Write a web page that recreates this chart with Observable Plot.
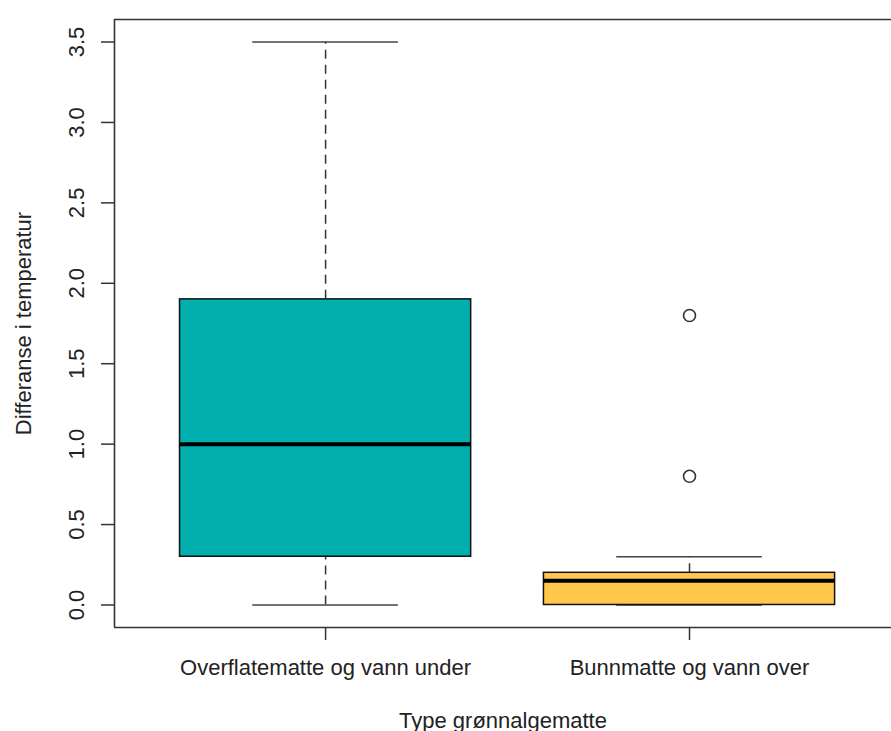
<!DOCTYPE html>
<html>
<head>
<meta charset="utf-8">
<script src="https://cdn.jsdelivr.net/npm/d3@7"></script>
<script src="https://cdn.jsdelivr.net/npm/@observablehq/plot@0.6"></script>
<style>
  html, body { margin: 0; padding: 0; background: #fff; }
</style>
</head>
<body>
<div id="chart"></div>
<script>
// ---- data ----
const categories = ["Overflatematte og vann under", "Bunnmatte og vann over"];
const q1 = [0.3, 0.0];
const median = [1.0, 0.15];
const q3 = [1.9, 0.2];
const whiskerLow = [0.0, 0.0];
const whiskerHigh = [3.5, 0.3];
const outlierValues = [[], [0.8, 1.8]];
const boxColors = ["#00AFAE", "#FFC84B"];
const yTicks = [0, 0.5, 1.0, 1.5, 2.0, 2.5, 3.0, 3.5];
const xTitle = "Type grønnalgematte";
const yTitle = "Differanse i temperatur";

// ---- tables ----
const boxes = categories.map((c, i) => ({
  cat: c, i: i + 1, q1: q1[i], med: median[i], q3: q3[i],
  lo: whiskerLow[i], hi: whiskerHigh[i], color: boxColors[i]
}));
const outliers = outlierValues.flatMap((vals, i) => vals.map(v => ({i: i + 1, v})));

const xDomain = [0.42, 2.555];
const yDomain = [-0.14, 3.64];
const boxHalf = 0.4, capHalf = 0.2;
const font = "'Liberation Sans', Arial, Helvetica, sans-serif";
const ink = "#333";
const fs = 22;

const chart = Plot.plot({
  width: 891,
  height: 731,
  marginLeft: 114,
  marginRight: 0,
  marginTop: 19,
  marginBottom: 104,
  style: {fontFamily: font, fontSize: fs + "px", color: "#222", background: "#fff"},
  x: {domain: xDomain, axis: null},
  y: {domain: yDomain, axis: null},
  marks: [
    // frame (left, top, bottom; right side is outside the picture)
    Plot.ruleX([xDomain[0]], {stroke: ink, strokeWidth: 1.6}),
    Plot.ruleY([yDomain[0], yDomain[1]], {stroke: ink, strokeWidth: 1.6}),
    // y axis
    Plot.axisY({
      ticks: yTicks, tickSize: 13, tickPadding: 18, tickRotate: -90,
      tickFormat: d3.format(".1f"), fontSize: fs, stroke: ink, strokeWidth: 1.5,
      label: null
    }),
    // x axis
    Plot.axisX({
      ticks: boxes.map(d => d.i), tickSize: 13, tickPadding: 19,
      tickFormat: v => categories[v - 1], fontSize: fs, stroke: ink, strokeWidth: 1.5,
      label: null
    }),
    // whiskers (dashed)
    Plot.ruleX(boxes, {x: "i", y1: "lo", y2: "q1", stroke: ink, strokeWidth: 1.5, strokeDasharray: "9,6"}),
    Plot.ruleX(boxes, {x: "i", y1: "q3", y2: "hi", stroke: ink, strokeWidth: 1.5, strokeDasharray: "9,6"}),
    // whisker caps
    Plot.ruleY(boxes, {y: "lo", x1: d => d.i - capHalf, x2: d => d.i + capHalf, stroke: "#444", strokeWidth: 1.7}),
    Plot.ruleY(boxes, {y: "hi", x1: d => d.i - capHalf, x2: d => d.i + capHalf, stroke: "#444", strokeWidth: 1.7}),
    // boxes
    Plot.rect(boxes, {x1: d => d.i - boxHalf, x2: d => d.i + boxHalf, y1: "q1", y2: "q3",
      fill: d => d.color, stroke: "#111", strokeWidth: 1.5}),
    // medians
    Plot.ruleY(boxes, {y: "med", x1: d => d.i - boxHalf, x2: d => d.i + boxHalf, stroke: "#000", strokeWidth: 4}),
    // outliers
    Plot.dot(outliers, {x: "i", y: "v", r: 6, stroke: ink, strokeWidth: 1.6, fill: "none"}),
    // axis titles
    Plot.text([xTitle], {frameAnchor: "bottom", dy: 100, lineAnchor: "bottom", textAnchor: "middle", fontSize: fs, fill: "#222"}),
    Plot.text([yTitle], {frameAnchor: "left", dx: -84, rotate: -90, lineAnchor: "bottom", textAnchor: "middle", fontSize: fs, fill: "#222"})
  ]
});
document.getElementById("chart").appendChild(chart);
</script>
</body>
</html>
